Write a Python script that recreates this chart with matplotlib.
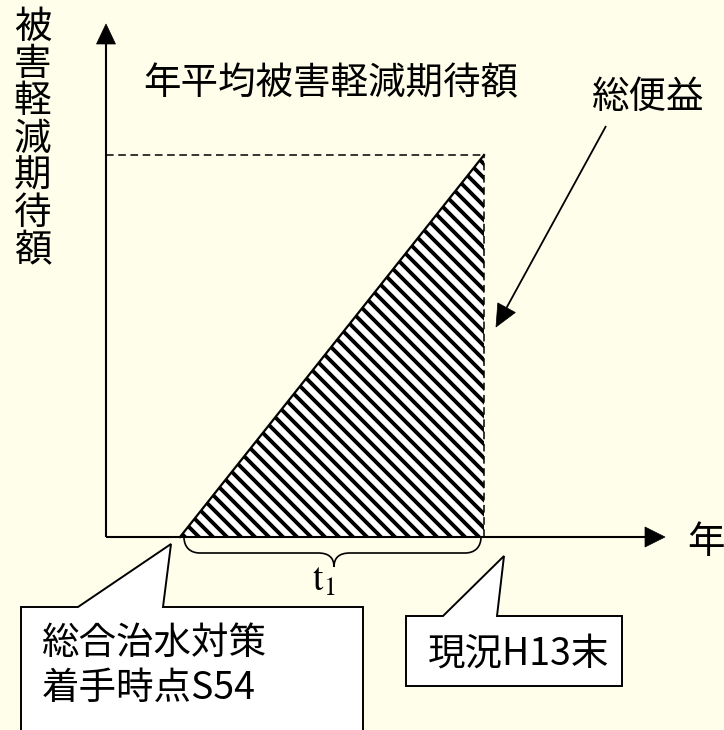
import numpy as np
import matplotlib
matplotlib.use('Agg')
import matplotlib.pyplot as plt
import matplotlib.transforms as mtransforms
from matplotlib.patches import Polygon, PathPatch
from matplotlib.path import Path
from matplotlib.collections import LineCollection

plt.rcParams['font.family'] = ['Noto Sans CJK JP', 'DejaVu Sans']

# データ（概念図）
years = [1979, 2001]          # S54 着手 → H13末 現況
benefit = [0.0, 1.0]          # 年平均被害軽減期待額（相対値）
title_text = '年平均被害軽減期待額'
ylabel_text = '被害軽減期待額'
xlabel_text = '年'
total_text = '総便益'
start_lines = ['総合治水対策', '着手時点S54']
end_text = '現況H13末'

W, H = 724, 730
bg = '#FFFEEB'

fig = plt.figure(figsize=(W / 100, H / 100), dpi=100, facecolor=bg)

# ピクセル座標（左上原点）
pix = mtransforms.Affine2D().scale(1 / W, -1 / H).translate(0, 1) + fig.transFigure

# 三角形の外接矩形にデータ軸を合わせる
ax = fig.add_axes([180 / W, 1 - 537 / H, 304 / W, 382 / H])
ax.set_xlim(years[0], years[1])
ax.set_ylim(benefit[0], benefit[1])
ax.axis('off')

# 総便益の三角形
tri = Polygon([(years[0], benefit[0]), (years[1], benefit[0]), (years[1], benefit[1])],
              closed=True, facecolor='white', edgecolor='none', clip_on=False, zorder=2)
ax.add_patch(tri)

# 斜線
segs = [[(x0, 0), (x0 + 800, 800)] for x0 in np.arange(-800, 800, 14)]
lc = LineCollection(segs, colors='black', linewidths=2.8, transform=pix, zorder=3)
lc.set_clip_path(tri)
ax.add_collection(lc)
ax.plot(years, benefit, color='black', lw=1.6, clip_on=False, zorder=4)

# 破線
ax.plot([years[1], years[1]], benefit, color='black', lw=1.1, ls=(0, (5, 3)), clip_on=False, zorder=5)
trans_h = mtransforms.blended_transform_factory(ax.transAxes, ax.transData)
ax.plot([(106 - 180) / 304, 1], [benefit[1], benefit[1]], color='black', lw=1.1,
        ls=(0, (5, 3)), transform=trans_h, clip_on=False, zorder=5)


def arrow(p0, p1, hl, hw, lw=1.5):
    p0 = np.array(p0, float)
    p1 = np.array(p1, float)
    d = (p1 - p0) / np.hypot(*(p1 - p0))
    n = np.array([-d[1], d[0]])
    base = p1 - d * hl
    ax.plot([p0[0], base[0]], [p0[1], base[1]], color='black', lw=lw,
            transform=pix, clip_on=False, zorder=6, solid_capstyle='butt')
    head = Polygon([p1, base + n * hw, base - n * hw], closed=True, facecolor='black',
                   edgecolor='black', lw=0.5, transform=pix, clip_on=False, zorder=6)
    ax.add_patch(head)


# 軸
arrow((106, 537), (106, 24), 20, 9.5)
arrow((106, 537), (665, 537), 20, 10)

# 総便益の矢印
arrow((606, 126), (496, 327), 22, 10, lw=1.3)

# 波括弧
verts = [(184, 537), (184, 547), (190, 553), (200, 553),
         (318, 553),
         (328, 553), (334, 557), (334, 567),
         (334, 557), (340, 553), (350, 553),
         (465, 553),
         (475, 553), (481, 547), (481, 537)]
codes = [Path.MOVETO, Path.CURVE4, Path.CURVE4, Path.CURVE4,
         Path.LINETO,
         Path.CURVE4, Path.CURVE4, Path.CURVE4,
         Path.CURVE4, Path.CURVE4, Path.CURVE4,
         Path.LINETO,
         Path.CURVE4, Path.CURVE4, Path.CURVE4]
ax.add_patch(PathPatch(Path(verts, codes), facecolor='none', edgecolor='black', lw=1.2,
                       transform=pix, clip_on=False, zorder=6))
ax.text(324, 580, r'$\mathrm{t}_1$', transform=pix, fontsize=27, math_fontfamily='stix',
        ha='center', va='center', zorder=7)

# 吹き出し
call1 = [(21, 607), (78, 607), (171, 544), (163, 607), (363, 607), (363, 760), (21, 760)]
call2 = [(406, 616), (443, 616), (504, 556), (497, 616), (622, 616), (622, 686), (406, 686)]
for c in (call1, call2):
    ax.add_patch(Polygon(c, closed=True, facecolor='white', edgecolor='black', lw=1.4,
                         transform=pix, clip_on=False, zorder=6))

fs = 27
ax.text(42, 643, start_lines[0], transform=pix, fontsize=fs, ha='left', va='center', zorder=7)
ax.text(42, 688, start_lines[1], transform=pix, fontsize=fs, ha='left', va='center', zorder=7)
ax.text(428, 654, end_text, transform=pix, fontsize=fs, ha='left', va='center', zorder=7)

# ラベル
ax.text(143, 84, title_text, transform=pix, fontsize=fs, ha='left', va='center')
ax.text(648, 97, total_text, transform=pix, fontsize=fs, ha='center', va='center')
ax.text(706, 543, xlabel_text, transform=pix, fontsize=fs, ha='center', va='center')
for i, ch in enumerate(ylabel_text):
    ax.text(32.5, 27.5 + 37.2 * i, ch, transform=pix, fontsize=fs, ha='center', va='center')

fig.savefig('out.png', dpi=100, facecolor=bg)
